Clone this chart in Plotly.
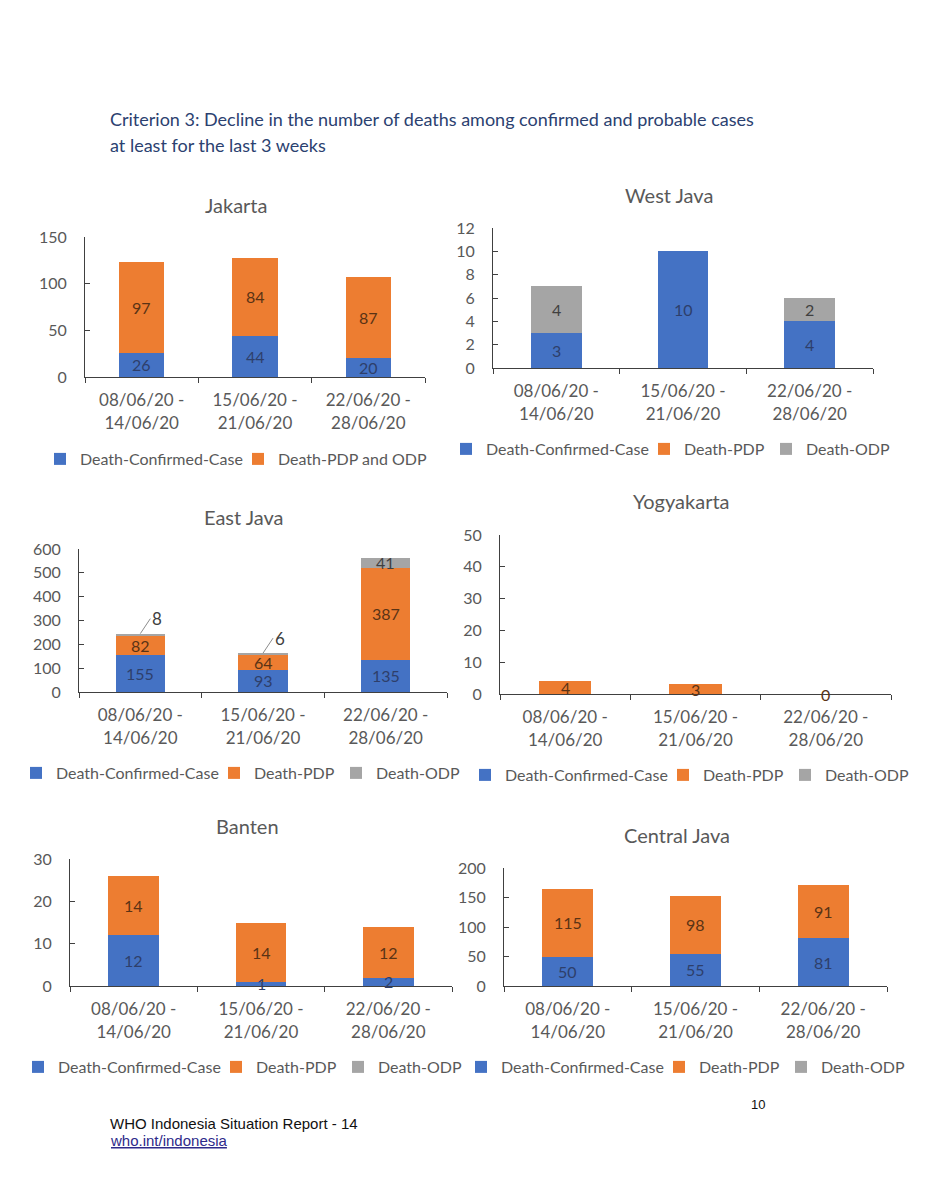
import plotly.graph_objects as go

weeks = ["08/06/20 -<br>14/06/20", "15/06/20 -<br>21/06/20", "22/06/20 -<br>28/06/20"]

jakarta_confirmed = [26, 44, 20]
jakarta_pdp_odp = [97, 84, 87]

westjava_confirmed = [3, 10, 4]
westjava_pdp = [0, 0, 0]
westjava_odp = [4, 0, 2]

eastjava_confirmed = [155, 93, 135]
eastjava_pdp = [82, 64, 387]
eastjava_odp = [8, 6, 41]

yogya_confirmed = [0, 0, 0]
yogya_pdp = [4, 3, 0]
yogya_odp = [0, 0, 0]

banten_confirmed = [12, 1, 2]
banten_pdp = [14, 14, 12]
banten_odp = [0, 0, 0]

centraljava_confirmed = [50, 55, 81]
centraljava_pdp = [115, 98, 91]
centraljava_odp = [0, 0, 0]

BLUE = "#4472C4"
ORANGE = "#ED7D31"
GRAY = "#A5A5A5"
TXT = "#595959"
FONT = "Lato"
W, H = 931, 1200
OFF = 8  # page body margin

# approximate rendered widths of the legend labels, used to tighten legend spacing
LEG_W = {"Death-Confirmed-Case": 163, "Death-PDP": 87, "Death-ODP": 84, "Death-PDP and ODP": 148}
LEG_GAP = 9


def px_x(x):
    return (x - OFF) / W


def px_y(y):
    return 1 - (y - OFF) / H


panels = [
    dict(name="Jakarta",
         series=[("Death-Confirmed-Case", jakarta_confirmed, BLUE, "#2E3F6B"),
                 ("Death-PDP and ODP", jakarta_pdp_odp, ORANGE, "#5A3315")],
         yr=150, dtick=50, box=(85, 425, 377, 237), title=(236, 205), legend=(40, 459)),
    dict(name="West Java",
         series=[("Death-Confirmed-Case", westjava_confirmed, BLUE, "#2E3F6B"),
                 ("Death-PDP", westjava_pdp, ORANGE, "#5A3315"),
                 ("Death-ODP", westjava_odp, GRAY, "#404040")],
         yr=12, dtick=2, box=(493, 873, 368, 228), title=(669, 195), legend=(446, 449)),
    dict(name="East Java",
         series=[("Death-Confirmed-Case", eastjava_confirmed, BLUE, "#2E3F6B"),
                 ("Death-PDP", eastjava_pdp, ORANGE, "#5A3315"),
                 ("Death-ODP", eastjava_odp, GRAY, "#404040")],
         yr=600, dtick=100, box=(79, 447, 692, 549), title=(244, 517), legend=(16, 773),
         callouts={(2, 0), (2, 1)}),
    dict(name="Yogyakarta",
         series=[("Death-Confirmed-Case", yogya_confirmed, BLUE, "#2E3F6B"),
                 ("Death-PDP", yogya_pdp, ORANGE, "#5A3315"),
                 ("Death-ODP", yogya_odp, GRAY, "#404040")],
         yr=50, dtick=10, box=(500, 891, 694, 535), title=(681, 501), legend=(465, 775),
         zero_labels={(1, 2)}),
    dict(name="Banten",
         series=[("Death-Confirmed-Case", banten_confirmed, BLUE, "#2E3F6B"),
                 ("Death-PDP", banten_pdp, ORANGE, "#5A3315"),
                 ("Death-ODP", banten_odp, GRAY, "#404040")],
         yr=30, dtick=10, box=(70, 452, 986, 859), title=(247, 826), legend=(18, 1067)),
    dict(name="Central Java",
         series=[("Death-Confirmed-Case", centraljava_confirmed, BLUE, "#2E3F6B"),
                 ("Death-PDP", centraljava_pdp, ORANGE, "#5A3315"),
                 ("Death-ODP", centraljava_odp, GRAY, "#404040")],
         yr=200, dtick=50, box=(504, 887, 986, 868), title=(677, 835), legend=(461, 1067)),
]

fig = go.Figure()
annotations = []
layout = {}

for i, p in enumerate(panels, start=1):
    xa = "x" if i == 1 else f"x{i}"
    ya = "y" if i == 1 else f"y{i}"
    lg = "legend" if i == 1 else f"legend{i}"
    base = [0, 0, 0]
    nser = len(p["series"])
    for k, (sname, vals, color, lcolor) in enumerate(p["series"]):
        lw = LEG_W[sname] - 19 + LEG_GAP if k < nser - 1 else LEG_W[sname]
        fig.add_trace(go.Bar(
            x=weeks, y=vals, name=sname, marker=dict(color=color, line=dict(width=0)),
            xaxis=xa, yaxis=ya, legend=lg, legendwidth=lw, hoverinfo="skip",
        ))
        for j, v in enumerate(vals):
            if (k, j) in p.get("callouts", set()):
                annotations.append(dict(
                    x=weeks[j], y=base[j] + v, xref=xa, yref=ya, text=str(v),
                    showarrow=True, arrowhead=0, arrowwidth=1, arrowcolor="#8C8C8C",
                    ax=10, ay=-15, xanchor="left", font=dict(family=FONT, size=17, color="#404040")))
            elif v != 0 or (k, j) in p.get("zero_labels", set()):
                annotations.append(dict(
                    x=weeks[j], y=base[j] + v / 2, xref=xa, yref=ya, text=str(v),
                    showarrow=False, font=dict(family=FONT, size=16, color=lcolor)))
        base = [b + v for b, v in zip(base, vals)]

    left, right, bottom, top = p["box"]
    axkey = "xaxis" if i == 1 else f"xaxis{i}"
    aykey = "yaxis" if i == 1 else f"yaxis{i}"
    layout[axkey] = dict(
        domain=[px_x(left), px_x(right)], anchor=ya, type="category", automargin=False,
        showline=True, linecolor="#404040", linewidth=1,
        ticks="outside", tickson="boundaries", ticklen=5, tickcolor="#404040",
        showgrid=False, zeroline=False, ticklabelstandoff=8,
        tickfont=dict(family=FONT, size=17, color=TXT), fixedrange=True,
    )
    layout[aykey] = dict(
        domain=[px_y(bottom), px_y(top)], anchor=xa, range=[0, p["yr"]], dtick=p["dtick"],
        automargin=False,
        showline=True, linecolor="#404040", linewidth=1,
        ticks="inside", ticklen=5, tickcolor="#404040",
        showgrid=False, zeroline=False, ticklabelstandoff=14,
        tickfont=dict(family=FONT, size=16, color=TXT), fixedrange=True,
    )
    tx, ty = p["title"]
    annotations.append(dict(
        x=px_x(tx), y=px_y(ty), xref="paper", yref="paper", text=p["name"], showarrow=False,
        xanchor="center", yanchor="middle", font=dict(family=FONT, size=20, color=TXT)))
    lx, ly = p["legend"]
    layout[lg] = dict(
        orientation="h", x=px_x(lx), y=px_y(ly), xanchor="left", yanchor="middle",
        font=dict(family=FONT, size=16, color=TXT), bgcolor="rgba(0,0,0,0)",
        itemwidth=30, traceorder="normal", itemclick=False, itemdoubleclick=False,
    )

annotations += [
    dict(x=px_x(108), y=px_y(119), xref="paper", yref="paper", showarrow=False,
         xanchor="left", yanchor="middle",
         text="Criterion 3: Decline in the number of deaths among confirmed and probable cases",
         font=dict(family=FONT, size=18, color="#2B4170")),
    dict(x=px_x(108), y=px_y(145), xref="paper", yref="paper", showarrow=False,
         xanchor="left", yanchor="middle", text="at least for the last 3 weeks",
         font=dict(family=FONT, size=18, color="#2B4170")),
    dict(x=px_x(108), y=px_y(1123), xref="paper", yref="paper", showarrow=False,
         xanchor="left", yanchor="middle", text="WHO Indonesia Situation Report - 14",
         font=dict(family="Liberation Sans", size=15, color="#111111")),
    dict(x=px_x(108), y=px_y(1140), xref="paper", yref="paper", showarrow=False,
         xanchor="left", yanchor="middle", text="<u>who.int/indonesia</u>",
         font=dict(family="Liberation Sans", size=15, color="#2E2A8A")),
    dict(x=px_x(758), y=px_y(1104), xref="paper", yref="paper", showarrow=False,
         xanchor="center", yanchor="middle", text="10",
         font=dict(family="Liberation Sans", size=13, color="#111111")),
]

fig.update_layout(
    width=W, height=H, autosize=False,
    margin=dict(l=0, r=0, t=0, b=0),
    paper_bgcolor="white", plot_bgcolor="white",
    barmode="stack", bargap=0.6,
    annotations=annotations,
    **layout,
)

fig.write_html("out.html")
